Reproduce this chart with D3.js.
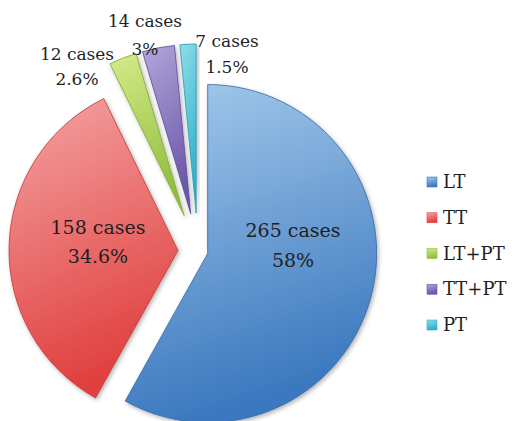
<!DOCTYPE html>
<html>
<head>
<meta charset="utf-8">
<script src="https://cdn.jsdelivr.net/npm/d3@7"></script>
<style>
  body { margin: 0; background: #fff; }
  svg { display: block; }
  text { font-family: "DejaVu Serif", serif; fill: #1f1f1f; }
</style>
</head>
<body>
<script>
var width = 515;
var height = 421;

// data
var categories = ['LT', 'TT', 'LT+PT', 'TT+PT', 'PT'];
var cases = [265, 158, 12, 14, 7];
var percentLabels = ['58%', '34.6%', '2.6%', '3%', '1.5%'];

// colours (light top, dark bottom) and layout
var colorTop = ['#a6cbec', '#f5a3a3', '#d6ea8a', '#b3a6da', '#8fdcea'];
var colorBottom = ['#3b78bf', '#e0403f', '#8fbf3c', '#6a56aa', '#2fb0c9'];
var explode = [10, 20, 38, 38, 38];
var cx = 198, cy = 251, radius = 169;

// label anchor (centre x, first baseline, line gap, font size) per slice
var labelPos = [[293, 237, 30, 19], [98, 234, 29, 19], [77, 60, 25, 17], [145, 27, 28, 17], [227, 47, 26, 17]];

var svg = d3.select('body').append('svg')
  .attr('width', width)
  .attr('height', height);

var defs = svg.append('defs');

var shadow = defs.append('filter')
  .attr('id', 'shadow')
  .attr('x', '-10%').attr('y', '-10%')
  .attr('width', '130%').attr('height', '130%');
shadow.append('feDropShadow')
  .attr('dx', 1.5).attr('dy', 2)
  .attr('stdDeviation', 2)
  .attr('flood-color', '#000')
  .attr('flood-opacity', 0.3);

categories.forEach(function(c, i) {
  var g = defs.append('linearGradient')
    .attr('id', 'grad' + i)
    .attr('x1', 0).attr('y1', 0)
    .attr('x2', 0.25).attr('y2', 1);
  g.append('stop').attr('offset', '0%').attr('stop-color', colorTop[i]);
  g.append('stop').attr('offset', '100%').attr('stop-color', colorBottom[i]);
});

var pie = d3.pie().sort(null).value(function(d) { return d; });
var arc = d3.arc().innerRadius(0).outerRadius(radius);
var arcs = pie(cases);

var pieG = svg.append('g').attr('transform', 'translate(' + cx + ',' + cy + ')');

pieG.selectAll('path')
  .data(arcs)
  .enter().append('path')
  .attr('d', arc)
  .attr('transform', function(d, i) {
    var mid = (d.startAngle + d.endAngle) / 2;
    return 'translate(' + (explode[i] * Math.sin(mid)) + ',' + (-explode[i] * Math.cos(mid)) + ')';
  })
  .attr('fill', function(d, i) { return 'url(#grad' + i + ')'; })
  .attr('stroke', function(d, i) { return d3.color(colorBottom[i]).darker(0.4); })
  .attr('stroke-width', 0.8)
  .attr('stroke-linejoin', 'round')
  .attr('filter', 'url(#shadow)');

// slice labels
var labels = svg.append('g').selectAll('text')
  .data(arcs)
  .enter().append('text')
  .attr('text-anchor', 'middle')
  .style('font-size', function(d, i) { return labelPos[i][3] + 'px'; });

labels.append('tspan')
  .attr('x', function(d, i) { return labelPos[i][0]; })
  .attr('y', function(d, i) { return labelPos[i][1]; })
  .text(function(d) { return d.data + ' cases'; });

labels.append('tspan')
  .attr('x', function(d, i) { return labelPos[i][0]; })
  .attr('y', function(d, i) { return labelPos[i][1] + labelPos[i][2]; })
  .text(function(d, i) { return percentLabels[i]; });

// legend
var legendY = d3.scalePoint().domain(categories).range([182, 325]);

var legend = svg.append('g').selectAll('g')
  .data(categories)
  .enter().append('g')
  .attr('transform', function(d) { return 'translate(427,' + legendY(d) + ')'; });

legend.append('rect')
  .attr('x', 0).attr('y', -5)
  .attr('width', 10).attr('height', 10)
  .attr('fill', function(d, i) { return 'url(#grad' + i + ')'; })
  .attr('stroke', function(d, i) { return colorBottom[i]; })
  .attr('stroke-width', 0.6);

legend.append('text')
  .attr('x', 16)
  .attr('y', 6)
  .style('font-size', '18px')
  .text(function(d) { return d; });
</script>
</body>
</html>
